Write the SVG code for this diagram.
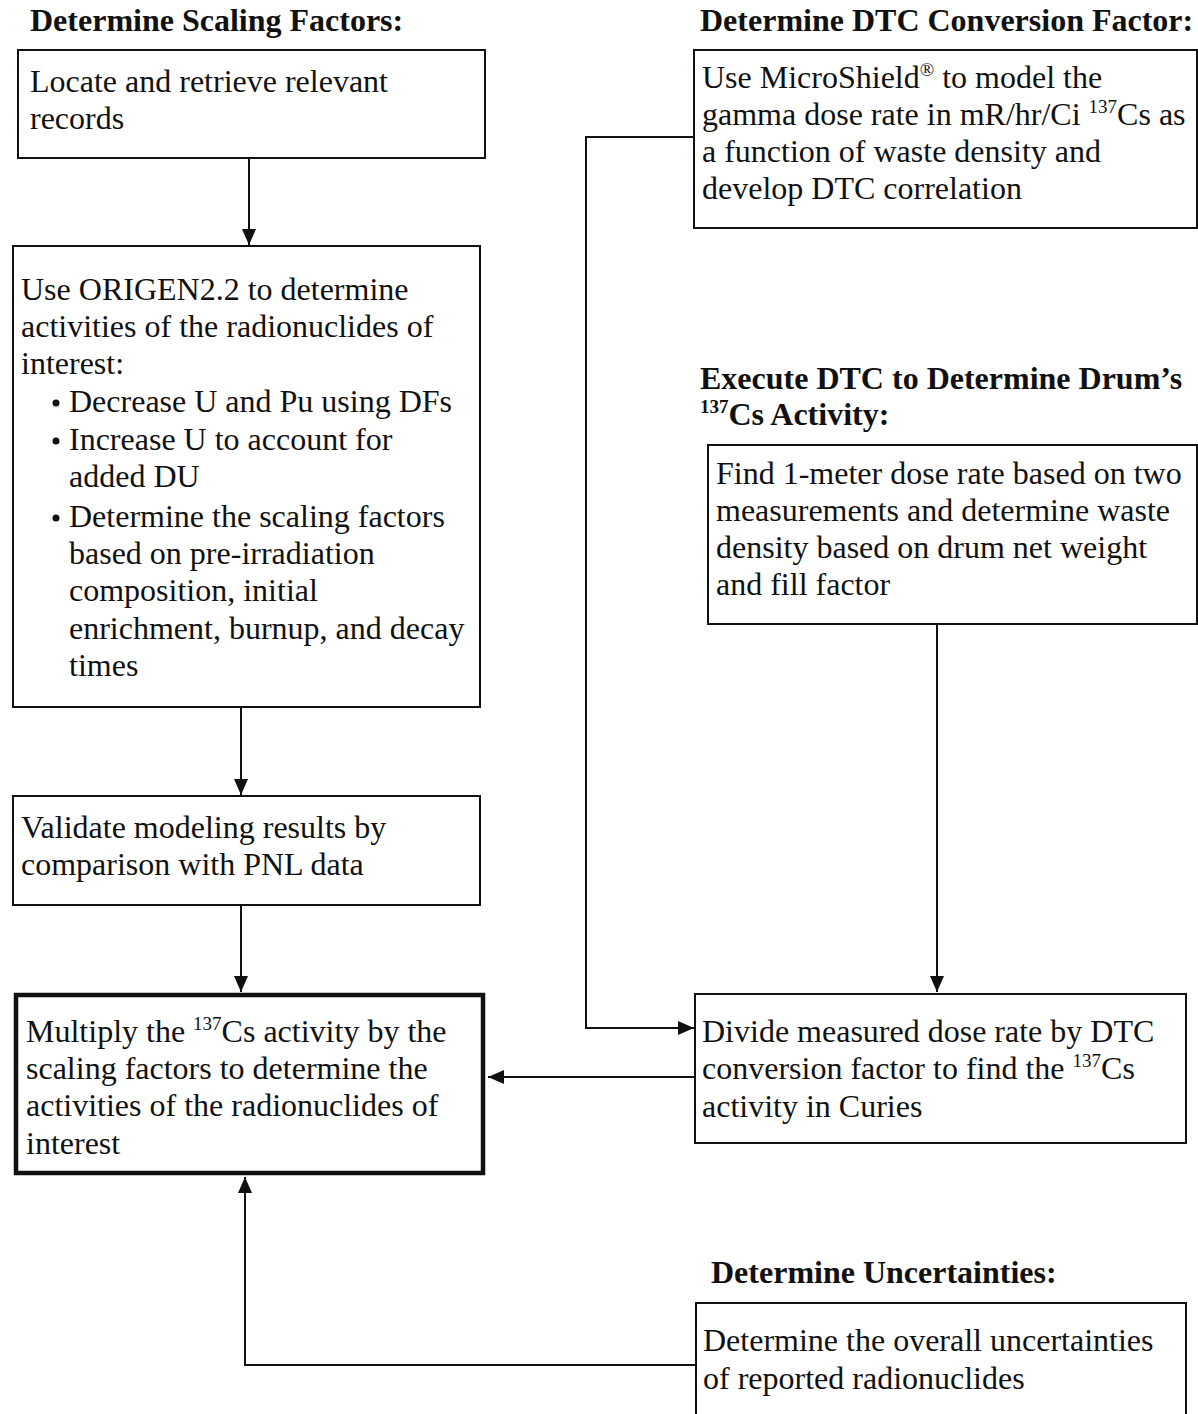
<svg xmlns="http://www.w3.org/2000/svg" width="1198" height="1414" viewBox="0 0 1198 1414">
<style>
text{font-family:"Liberation Serif","Times New Roman",serif;font-size:32px;fill:#111}
.h{font-weight:bold;font-size:32px}
.sup{font-size:19px}
.box{fill:#fff;stroke:#111;stroke-width:2}
.thick{fill:#fff;stroke:#111;stroke-width:4.5}
.ln{fill:none;stroke:#111;stroke-width:2}
</style>
<defs>
<marker id="ah" viewBox="0 0 16 14" refX="16" refY="7" markerWidth="16" markerHeight="14" markerUnits="userSpaceOnUse" orient="auto">
<path d="M0,0 L16,7 L0,14 Z" fill="#111"/>
</marker>
</defs>
<rect width="1198" height="1414" fill="#fff"/>

<text class="h" x="30" y="31">Determine Scaling Factors:</text>
<text class="h" x="700" y="31">Determine DTC Conversion Factor:</text>
<text class="h" x="700" y="389">Execute DTC to Determine Drum’s</text>
<text class="h" x="700" y="425"><tspan class="sup" dy="-12">137</tspan><tspan dy="12">Cs Activity:</tspan></text>
<text class="h" x="711" y="1283">Determine Uncertainties:</text>

<g id="connectors">
<line class="ln" x1="249" y1="158" x2="249" y2="245" marker-end="url(#ah)"/>
<line class="ln" x1="241" y1="707" x2="241" y2="795" marker-end="url(#ah)"/>
<line class="ln" x1="241" y1="905" x2="241" y2="992" marker-end="url(#ah)"/>
<polyline class="ln" points="694,137 586,137 586,1028 694,1028" marker-end="url(#ah)"/>
<line class="ln" x1="937" y1="624" x2="937" y2="992" marker-end="url(#ah)"/>
<line class="ln" x1="695" y1="1077" x2="488" y2="1077" marker-end="url(#ah)"/>
<polyline class="ln" points="696,1365 245,1365 245,1177" marker-end="url(#ah)"/>
</g>

<g id="n1">
<rect class="box" x="18" y="50" width="467" height="108"/>
<text x="30" y="92">Locate and retrieve relevant</text>
<text x="30" y="129">records</text>
</g>

<g id="n2">
<rect class="box" x="13" y="246" width="467" height="461"/>
<text x="21" y="300">Use ORIGEN2.2 to determine</text>
<text x="21" y="337">activities of the radionuclides of</text>
<text x="21" y="374">interest:</text>
<circle cx="56" cy="403" r="3.5" fill="#111"/>
<text x="69" y="412">Decrease U and Pu using DFs</text>
<circle cx="56" cy="441" r="3.5" fill="#111"/>
<text x="69" y="450">Increase U to account for</text>
<text x="69" y="487">added DU</text>
<circle cx="56" cy="518" r="3.5" fill="#111"/>
<text x="69" y="527">Determine the scaling factors</text>
<text x="69" y="564">based on pre-irradiation</text>
<text x="69" y="601">composition, initial</text>
<text x="69" y="639">enrichment, burnup, and decay</text>
<text x="69" y="676">times</text>
</g>

<g id="n3">
<rect class="box" x="13" y="796" width="467" height="109"/>
<text x="21" y="838">Validate modeling results by</text>
<text x="21" y="875">comparison with PNL data</text>
</g>

<g id="n4">
<rect class="thick" x="16" y="995" width="467" height="178"/>
<text x="26" y="1042">Multiply the <tspan class="sup" dy="-12">137</tspan><tspan dy="12">Cs activity by the</tspan></text>
<text x="26" y="1079">scaling factors to determine the</text>
<text x="26" y="1116">activities of the radionuclides of</text>
<text x="26" y="1154">interest</text>
</g>

<g id="n5">
<rect class="box" x="694" y="50" width="503" height="178"/>
<text x="702" y="88">Use MicroShield<tspan class="sup" dy="-12">®</tspan><tspan dy="12"> to model the</tspan></text>
<text x="702" y="125">gamma dose rate in mR/hr/Ci <tspan class="sup" dy="-12">137</tspan><tspan dy="12">Cs as</tspan></text>
<text x="702" y="162">a function of waste density and</text>
<text x="702" y="199">develop DTC correlation</text>
</g>

<g id="n6">
<rect class="box" x="708" y="445" width="489" height="179"/>
<text x="716" y="484">Find 1-meter dose rate based on two</text>
<text x="716" y="521">measurements and determine waste</text>
<text x="716" y="558">density based on drum net weight</text>
<text x="716" y="595">and fill factor</text>
</g>

<g id="n7">
<rect class="box" x="695" y="994" width="491" height="149"/>
<text x="702" y="1042">Divide measured dose rate by DTC</text>
<text x="702" y="1079">conversion factor to find the <tspan class="sup" dy="-12">137</tspan><tspan dy="12">Cs</tspan></text>
<text x="702" y="1117">activity in Curies</text>
</g>

<g id="n8">
<rect class="box" x="696" y="1303" width="490" height="130"/>
<text x="703" y="1351">Determine the overall uncertainties</text>
<text x="703" y="1389">of reported radionuclides</text>
</g>
</svg>
